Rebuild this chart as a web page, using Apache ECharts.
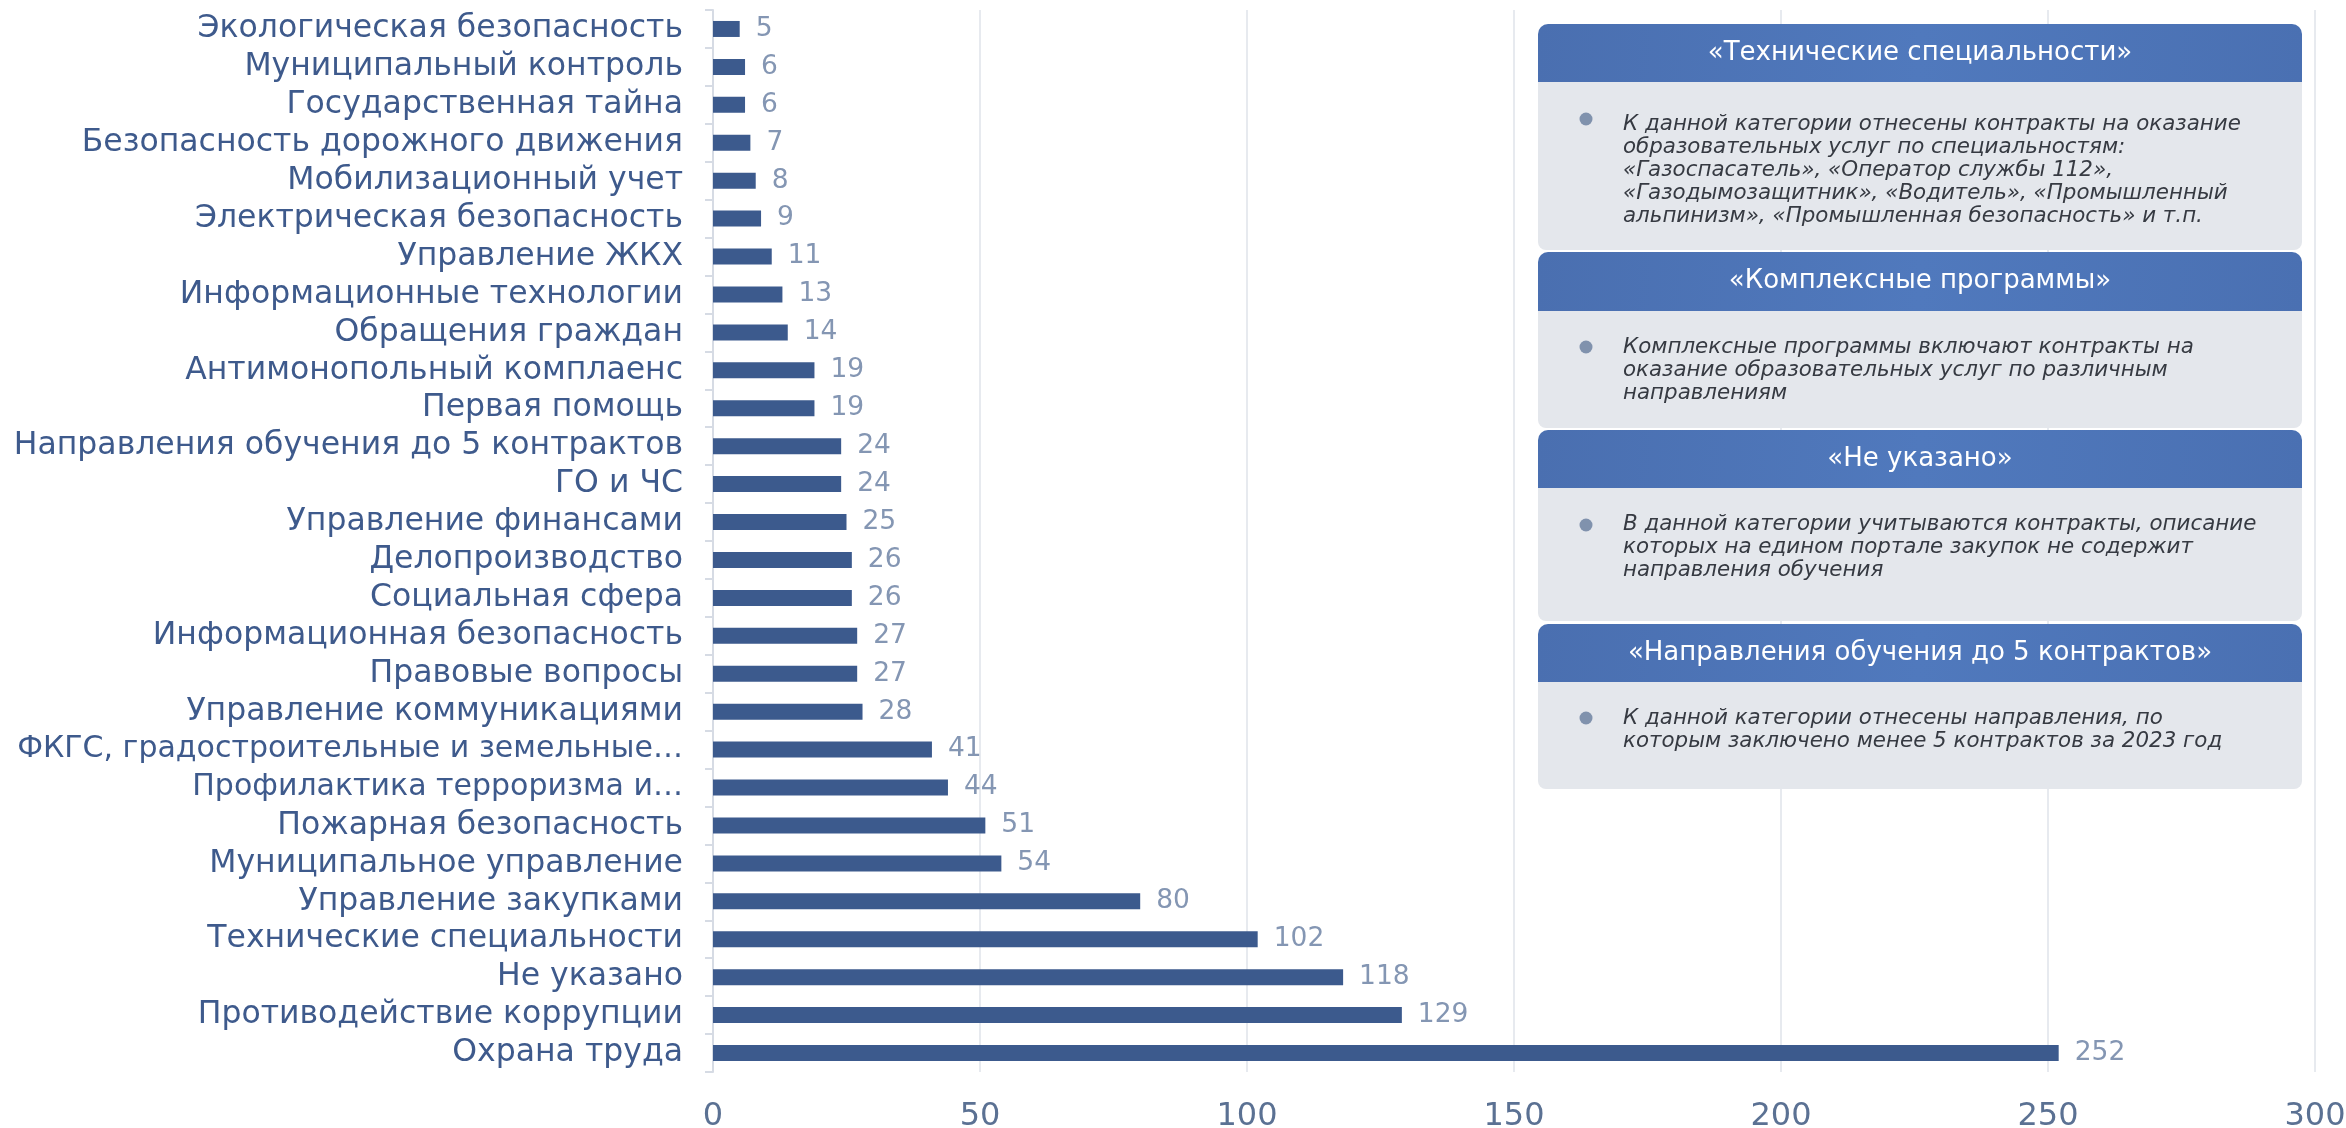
<!DOCTYPE html>
<html>
<head>
<meta charset="utf-8">
<script src="https://cdn.jsdelivr.net/npm/echarts@6/dist/echarts.min.js"></script>
<style>
html,body{margin:0;padding:0;background:#fff;}
#chart{width:2346px;height:1128px;}
</style>
</head>
<body>
<div id="chart"></div>
<script>
const categories = [
  "Экологическая безопасность",
  "Муниципальный контроль",
  "Государственная тайна",
  "Безопасность дорожного движения",
  "Мобилизационный учет",
  "Электрическая безопасность",
  "Управление ЖКХ",
  "Информационные технологии",
  "Обращения граждан",
  "Антимонопольный комплаенс",
  "Первая помощь",
  "Направления обучения до 5 контрактов",
  "ГО и ЧС",
  "Управление финансами",
  "Делопроизводство",
  "Социальная сфера",
  "Информационная безопасность",
  "Правовые вопросы",
  "Управление коммуникациями",
  "ФКГС, градостроительные и земельные…",
  "Профилактика терроризма и…",
  "Пожарная безопасность",
  "Муниципальное управление",
  "Управление закупками",
  "Технические специальности",
  "Не указано",
  "Противодействие коррупции",
  "Охрана труда"
];
const values = [5, 6, 6, 7, 8, 9, 11, 13, 14, 19, 19, 24, 24, 25, 26, 26, 27, 27, 28, 41, 44, 51, 54, 80, 102, 118, 129, 252];
const xTicks = [0, 50, 100, 150, 200, 250, 300];

const noteTitles = [
  "«Технические специальности»",
  "«Комплексные программы»",
  "«Не указано»",
  "«Направления обучения до 5 контрактов»"
];
const noteTexts = [
  "К данной категории отнесены контракты на оказание\nобразовательных услуг по специальностям:\n«Газоспасатель», «Оператор службы 112»,\n«Газодымозащитник», «Водитель», «Промышленный\nальпинизм», «Промышленная безопасность» и т.п.",
  "Комплексные программы включают контракты на\nоказание образовательных услуг по различным\nнаправлениям",
  "В данной категории учитываются контракты, описание\nкоторых на едином портале закупок не содержит\nнаправления обучения",
  "К данной категории отнесены направления, по\nкоторым заключено менее 5 контрактов за 2023 год"
];

const FONT = "DejaVu Sans";
const chart = echarts.init(document.getElementById('chart'), null, {renderer: 'canvas'});

// panel layout: [headerTop, headerBottom, bodyBottom, firstLineCenter, bulletY]
const panelLayout = [
  [24, 82, 250, 124, 119],
  [252, 311, 428, 347, 347],
  [430, 488, 621, 524, 525],
  [624, 682, 789, 718, 718]
];
const PX = 1538, PW = 764;
const headerGrad = new echarts.graphic.LinearGradient(0, 0, 1, 1, [
  {offset: 0, color: '#4a6fb0'},
  {offset: 0.5, color: '#5079bd'},
  {offset: 1, color: '#4a70b2'}
]);
const graphics = [];
panelLayout.forEach((p, i) => {
  const [ht, hb, bb, lc, by] = p;
  graphics.push({
    type: 'rect', z: 100,
    shape: {x: PX, y: hb - 2, width: PW, height: bb - hb + 2, r: [0, 0, 8, 8]},
    style: {fill: '#e4e7ec'}
  });
  graphics.push({
    type: 'rect', z: 101,
    shape: {x: PX, y: ht, width: PW, height: hb - ht, r: [10, 10, 0, 0]},
    style: {fill: headerGrad}
  });
  graphics.push({
    type: 'text', z: 102,
    x: PX + PW / 2, y: (ht + hb) / 2,
    style: {
      text: noteTitles[i], fill: '#ffffff', font: '400 26px "' + FONT + '"',
      textAlign: 'center', textVerticalAlign: 'middle'
    }
  });
  graphics.push({
    type: 'circle', z: 102,
    shape: {cx: 1586, cy: by, r: 6.5},
    style: {fill: '#8092ad'}
  });
  graphics.push({
    type: 'text', z: 102,
    x: 1623, y: lc - 11.5,
    style: {
      text: noteTexts[i], fill: '#363a42', font: 'italic 400 21.4px "' + FONT + '"',
      lineHeight: 23, textAlign: 'left', textVerticalAlign: 'top'
    }
  });
});

// the two truncated long labels use a slightly smaller size so they fit like in the reference
const categoryItems = categories.map(c =>
  c.endsWith('…') ? {value: c, textStyle: {fontSize: 30}} : c
);

chart.setOption({
  animation: false,
  backgroundColor: '#ffffff',
  grid: {left: 713, right: 31, top: 10, bottom: 56, containLabel: false, outerBoundsMode: 'none'},
  xAxis: {
    type: 'value', min: 0, max: 300, interval: 50,
    axisLine: {show: false}, axisTick: {show: false},
    splitLine: {show: true, lineStyle: {color: '#dfe3ea', width: 1.5}},
    axisLabel: {
      fontFamily: FONT, fontSize: 32, color: '#5b7193', margin: 29,
      formatter: v => xTicks.includes(v) ? String(v) : ''
    }
  },
  yAxis: {
    type: 'category', data: categoryItems, inverse: true,
    axisLine: {show: true, lineStyle: {color: '#d6dbe4', width: 2}},
    axisTick: {show: true, length: 8, lineStyle: {color: '#d6dbe4', width: 2}},
    axisLabel: {fontFamily: FONT, fontSize: 31.5, color: '#3e5a8c', margin: 30, interval: 0}
  },
  series: [{
    type: 'bar', data: values, barWidth: 16,
    itemStyle: {color: '#3c5a8d'},
    label: {
      show: true, position: 'right', distance: 16,
      fontFamily: FONT, fontSize: 26.5, color: '#8496b3'
    }
  }],
  graphic: graphics
});
</script>
</body>
</html>
